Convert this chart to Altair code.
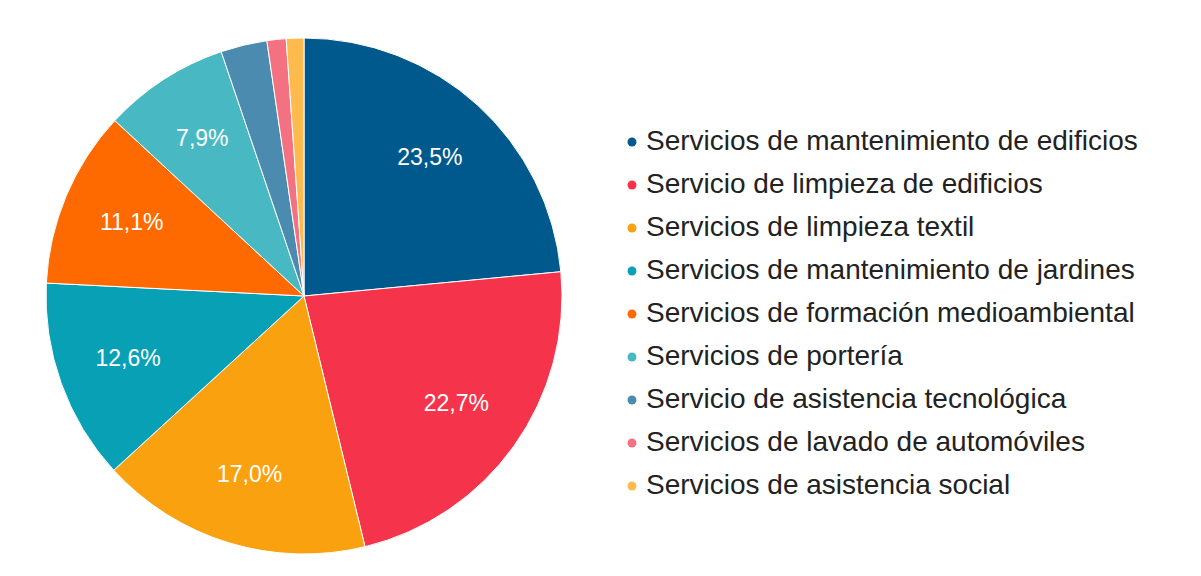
import altair as alt
import pandas as pd

categories = [
    "Servicios de mantenimiento de edificios",
    "Servicio de limpieza de edificios",
    "Servicios de limpieza textil",
    "Servicios de mantenimiento de jardines",
    "Servicios de formación medioambiental",
    "Servicios de portería",
    "Servicio de asistencia tecnológica",
    "Servicios de lavado de automóviles",
    "Servicios de asistencia social",
]
values = [23.5, 22.7, 17.0, 12.6, 11.1, 7.9, 2.9, 1.2, 1.1]
labels = ["23,5%", "22,7%", "17,0%", "12,6%", "11,1%", "7,9%", "", "", ""]
colors = ["#00598c", "#f5334b", "#f9a10e", "#08a0b5", "#ff6a00",
          "#48b9c3", "#4a8baf", "#f47181", "#fdbb4e"]

df = pd.DataFrame({
    "cat": categories,
    "val": values,
    "lab": labels,
    "ord": list(range(len(categories))),
})

R = 258

base = alt.Chart(df).encode(
    theta=alt.Theta("val:Q", stack=True),
    order=alt.Order("ord:Q", sort="ascending"),
)

pie = base.mark_arc(outerRadius=R, stroke="white", strokeWidth=1).encode(
    color=alt.Color(
        "cat:N",
        scale=alt.Scale(domain=categories, range=colors),
        sort=categories,
        legend=alt.Legend(
            title=None,
            orient="none",
            legendX=572,
            legendY=90,
            symbolType="circle",
            symbolSize=80,
            symbolStrokeWidth=0,
            labelFont="Liberation Sans",
            labelFontSize=28,
            labelColor="#222222",
            labelLimit=800,
            rowPadding=15,
            labelOffset=0,
            padding=0,
        ),
    )
)

text = base.mark_text(radius=187, fontSize=23, font="Liberation Sans",
                      color="white").encode(text="lab:N")

chart = (pie + text).properties(
    width=2 * R,
    height=2 * R,
    padding={"left": 36, "top": 28, "right": 0, "bottom": 0},
    background="white",
).configure_view(stroke=None)

chart.save("out.html", embed_options={"renderer": "svg", "actions": False})
